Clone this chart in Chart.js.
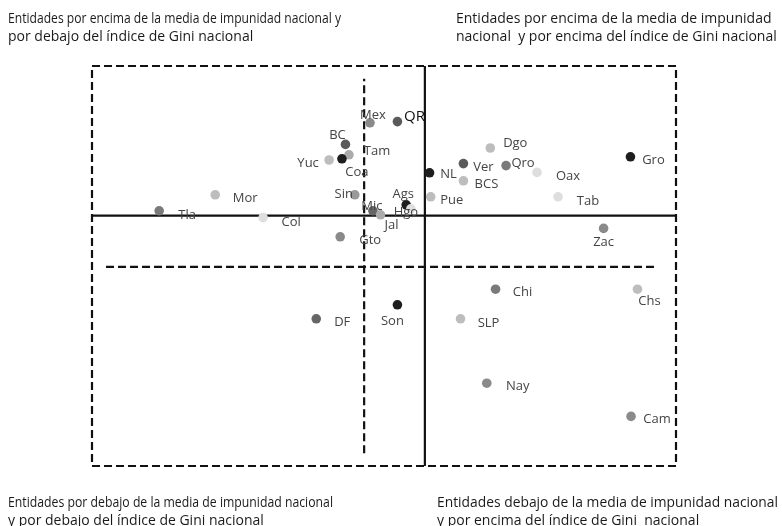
<!DOCTYPE html>
<html>
<head>
<meta charset="utf-8">
<script src="https://cdn.jsdelivr.net/npm/chart.js@4.4.1/dist/chart.umd.min.js"></script>
<style>
html, body { margin: 0; padding: 0; background: #fff; }
#wrap { width: 782px; height: 526px; position: relative; }
</style>
</head>
<body>
<div id="wrap"><canvas id="c"></canvas></div>
<script>
// entidades, x = índice de Gini (relativo), y = impunidad (relativo), 0-100 dentro del recuadro
const entidades = ['Mex','QR','BC','Tam','Yuc','Coa','Sin','Mor','Tla','Col','Mic','Jal','Ags','Hgo','Gto',
  'NL','Pue','Ver','BCS','Dgo','Qro','Oax','Tab','Gro','Zac','Chi','Chs','SLP','Nay','Cam','DF','Son'];
const gini = [47.6, 52.3, 43.4, 44.0, 40.6, 42.8, 45.0, 21.1, 11.5, 29.3, 48.1, 49.4, 53.8, 54.6, 42.5,
  57.8, 58.0, 63.6, 63.6, 68.2, 70.9, 76.2, 79.8, 92.2, 87.6, 69.1, 93.4, 63.1, 67.6, 92.3, 38.4, 52.3];
const impunidad = [85.8, 86.1, 80.4, 77.8, 76.5, 76.8, 67.8, 67.8, 63.8, 62.1, 63.8, 62.8, 65.3, 64.3, 57.3,
  73.3, 67.3, 75.6, 71.3, 79.5, 75.1, 73.4, 67.3, 77.3, 59.4, 44.2, 44.2, 36.8, 20.7, 12.4, 36.8, 40.3];
const tonos = ['#8a8a8a','#5a5a5a','#5a5a5a','#ababab','#bdbdbd','#1e1e1e','#9a9a9a','#bdbdbd','#7a7a7a','#dedede','#666666','#ababab','#1e1e1e','#dedede','#8a8a8a',
  '#1e1e1e','#bdbdbd','#5a5a5a','#bdbdbd','#bdbdbd','#7a7a7a','#dedede','#dedede','#1e1e1e','#8a8a8a','#7a7a7a','#bdbdbd','#bdbdbd','#8a8a8a','#8a8a8a','#666666','#1e1e1e'];

// medias nacionales (líneas continuas) y líneas de referencia (discontinuas)
const mediaGini = 57.0;
const mediaImpunidad = 62.6;
const refGini = 46.6;
const refImpunidad = 49.8;

const cuadrantes = [
  ['Entidades por encima de la media de impunidad nacional y', 'por debajo del índice de Gini nacional'],
  ['Entidades por encima de la media de impunidad', 'nacional  y por encima del índice de Gini nacional'],
  ['Entidades por debajo de la media de impunidad nacional', 'y por debajo del índice de Gini nacional'],
  ['Entidades debajo de la media de impunidad nacional', 'y por encima del índice de Gini  nacional']
];

// label placement (px offset from the dot)
const labelOffsets = {
  Mex: [3, -8], QR: [17, -5], BC: [-8, -9], Tam: [28, -4], Yuc: [-21, 3], Coa: [15, 13], Sin: [-11, -1],
  Mor: [30, 3], Tla: [28, 4], Col: [28, 5], Mic: [-1, -5], Jal: [11, 10], Ags: [-3, -11], Hgo: [-5, 3],
  Gto: [30, 3], NL: [19, 1], Pue: [21, 3], Ver: [20, 4], BCS: [23, 3], Dgo: [25, -5], Qro: [17, -2],
  Oax: [31, 4], Tab: [30, 4], Gro: [23, 3], Zac: [0, 14], Chi: [27, 3], Chs: [12, 12], SLP: [28, 4],
  Nay: [31, 3], Cam: [26, 3], DF: [26, 3], Son: [-5, 16]
};
const cornerText = [
  { x: 8, y: 23, w: 333 }, { x: 456, y: 23, w: 322 },
  { x: 8, y: 507, w: 325 }, { x: 437, y: 507, w: 341 }
];

const puntos = entidades.map((e, i) => ({ x: gini[i], y: impunidad[i] }));

const linea = (data, dash) => ({
  type: 'line', data: data, borderColor: '#111', borderWidth: 2.2, borderDash: dash,
  pointRadius: 0, fill: false, tension: 0, order: 2, clip: false
});

const etiquetas = {
  id: 'etiquetas',
  afterDatasetsDraw(chart) {
    const ctx = chart.ctx;
    const meta = chart.getDatasetMeta(0);
    ctx.save();
    ctx.textAlign = 'center';
    ctx.textBaseline = 'middle';
    meta.data.forEach((pt, i) => {
      const name = entidades[i];
      const off = labelOffsets[name] || [20, 0];
      if (name === 'QR') {
        ctx.font = '15px "Open Sans"';
        ctx.fillStyle = '#111';
      } else {
        ctx.font = '13px "Open Sans"';
        ctx.fillStyle = '#444';
      }
      ctx.fillText(name, pt.x + off[0], pt.y + off[1]);
    });
    // textos de cuadrante, comprimidos a su ancho
    ctx.textAlign = 'left';
    ctx.textBaseline = 'alphabetic';
    ctx.font = '14px "Open Sans"';
    ctx.fillStyle = '#1a1a1a';
    cuadrantes.forEach((lines, k) => {
      const c = cornerText[k];
      lines.forEach((t, j) => {
        const real = ctx.measureText(t).width;
        ctx.fillText(t, c.x, c.y + j * 18, Math.min(real, c.w));
      });
    });
    ctx.restore();
  }
};

new Chart(document.getElementById('c'), {
  type: 'scatter',
  data: {
    datasets: [
      { data: puntos, pointBackgroundColor: tonos, pointBorderWidth: 0, pointRadius: 4.8, order: 0, clip: false },
      linea([{ x: 0, y: mediaImpunidad }, { x: 100, y: mediaImpunidad }], []),
      linea([{ x: mediaGini, y: 0 }, { x: mediaGini, y: 100 }], []),
      linea([{ x: refGini, y: 3.2 }, { x: refGini, y: 96.8 }], [8, 4]),
      linea([{ x: 2.4, y: refImpunidad }, { x: 96.9, y: refImpunidad }], [8, 4]),
      linea([{ x: 0, y: 0 }, { x: 100, y: 0 }, { x: 100, y: 100 }, { x: 0, y: 100 }, { x: 0, y: 0 }], [8, 4])
    ]
  },
  options: {
    responsive: true,
    maintainAspectRatio: false,
    animation: false,
    layout: { padding: { left: 92, right: 106, top: 66, bottom: 60 } },
    plugins: { legend: { display: false }, tooltip: { enabled: false } },
    scales: {
      x: { type: 'linear', min: 0, max: 100, display: false },
      y: { type: 'linear', min: 0, max: 100, display: false }
    }
  },
  plugins: [etiquetas]
});
</script>
</body>
</html>
